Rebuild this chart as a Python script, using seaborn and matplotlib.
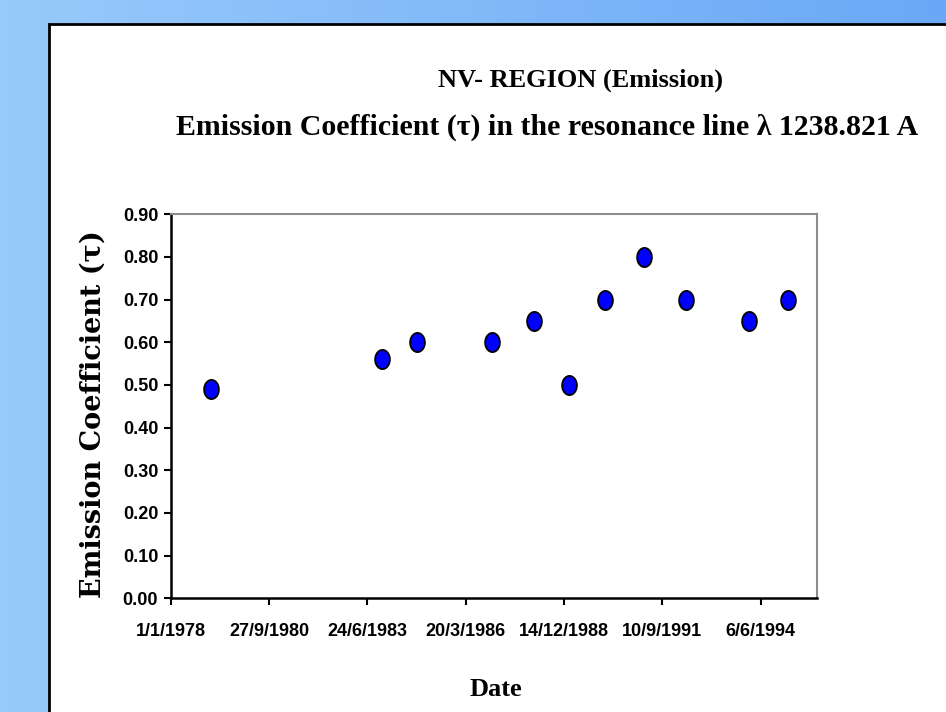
import numpy as np
import pandas as pd
import matplotlib
matplotlib.use("Agg")
import matplotlib.pyplot as plt
import seaborn as sns
from matplotlib.path import Path
from matplotlib.colors import LinearSegmentedColormap
from matplotlib.patches import Rectangle

# ---------------- data ----------------
dates = ["15/2/1979", "17/11/1983", "13/11/1984", "10/12/1986", "13/2/1988",
         "6/2/1989", "4/2/1990", "7/3/1991", "11/5/1992", "4/2/1994", "8/3/1995"]
values = [0.49, 0.56, 0.60, 0.60, 0.65, 0.50, 0.70, 0.80, 0.70, 0.65, 0.70]
x_tick_labels = ["1/1/1978", "27/9/1980", "24/6/1983", "20/3/1986",
                 "14/12/1988", "10/9/1991", "6/6/1994"]
x_min_label = "1/1/1978"
x_max_label = "27/12/1995"
y_ticks = [0.00, 0.10, 0.20, 0.30, 0.40, 0.50, 0.60, 0.70, 0.80, 0.90]

title1 = "NV- REGION (Emission)"
title2 = "Emission Coefficient (\u03c4) in the resonance line \u03bb 1238.821 A"
ylabel = "Emission Coefficient (\u03c4)"
xlabel = "Date"

# ---------------- style ----------------
sns.set_theme(style="white")
plt.rcParams["font.family"] = ["Liberation Sans", "DejaVu Sans"]
plt.rcParams["text.color"] = "black"

W, H = 946, 712
fig = plt.figure(figsize=(W / 100, H / 100), dpi=100)

# background gradient + white panel
bg = fig.add_axes([0, 0, 1, 1], zorder=-10)
grad = np.linspace(0, 1, 256).reshape(1, -1)
cmap = LinearSegmentedColormap.from_list("bg", ["#98cafb", "#6aa8f7"])
bg.imshow(grad, aspect="auto", cmap=cmap, extent=[0, 1, 0, 1])
bg.set_xlim(0, 1)
bg.set_ylim(0, 1)
bg.axis("off")
bg.add_patch(Rectangle((49 / W, -0.02), 1.0, 1.02 - 24 / H,
                       facecolor="white", edgecolor="black", linewidth=2))

# main axes
ax = fig.add_axes([170.7 / W, 1 - 598.3 / H, (816.7 - 170.7) / W, (598.3 - 214.3) / H])
ax.set_facecolor("white")

df = pd.DataFrame({"date": pd.to_datetime(dates, dayfirst=True), "value": values})

t = np.linspace(0, 2 * np.pi, 64)
ellipse = Path(np.column_stack([0.77 * np.cos(t), np.sin(t)]), closed=True)

sns.scatterplot(data=df, x="date", y="value", marker=ellipse, s=190,
                color="#0000ff", edgecolor="black", linewidth=1.3,
                ax=ax, zorder=3, clip_on=False, legend=False)

ax.set_xlim(pd.to_datetime(x_min_label, dayfirst=True),
            pd.to_datetime(x_max_label, dayfirst=True))
ax.set_xticks(pd.to_datetime(x_tick_labels, dayfirst=True))
ax.set_xticklabels(x_tick_labels)
ax.set_ylim(0, 0.9)
ax.set_yticks(y_ticks)
ax.set_yticklabels([f"{v:.2f}" for v in y_ticks])
ax.set_xlabel("")
ax.set_ylabel("")

for side in ["left", "bottom"]:
    ax.spines[side].set_color("black")
    ax.spines[side].set_linewidth(1.8)
for side in ["top", "right"]:
    ax.spines[side].set_color("#8c8c8c")
    ax.spines[side].set_linewidth(1.5)

ax.tick_params(axis="both", which="major", bottom=True, left=True,
               direction="out", length=5, width=1.5, color="black",
               labelsize=13, labelcolor="black")
ax.tick_params(axis="x", pad=13)
ax.tick_params(axis="y", pad=4)
for lab in ax.get_xticklabels() + ax.get_yticklabels():
    lab.set_fontweight("bold")

# texts
serif = ["Liberation Serif", "DejaVu Serif"]
fig.text(581 / W, 1 - 80 / H, title1, ha="center", va="center", color="black",
         family=serif, fontweight="bold", fontsize=19)
fig.text(547 / W, 1 - 127 / H, title2, ha="center", va="center", color="black",
         family=serif, fontweight="bold", fontsize=21.5)
fig.text(93 / W, 1 - 414 / H, ylabel, ha="center", va="center", rotation=90,
         color="black", family=["DejaVu Serif"], fontweight="bold", fontsize=19.5)
fig.text(496 / W, 1 - 690 / H, xlabel, ha="center", va="center", color="black",
         family=serif, fontweight="bold", fontsize=19)

fig.savefig("out.png", dpi=100)
